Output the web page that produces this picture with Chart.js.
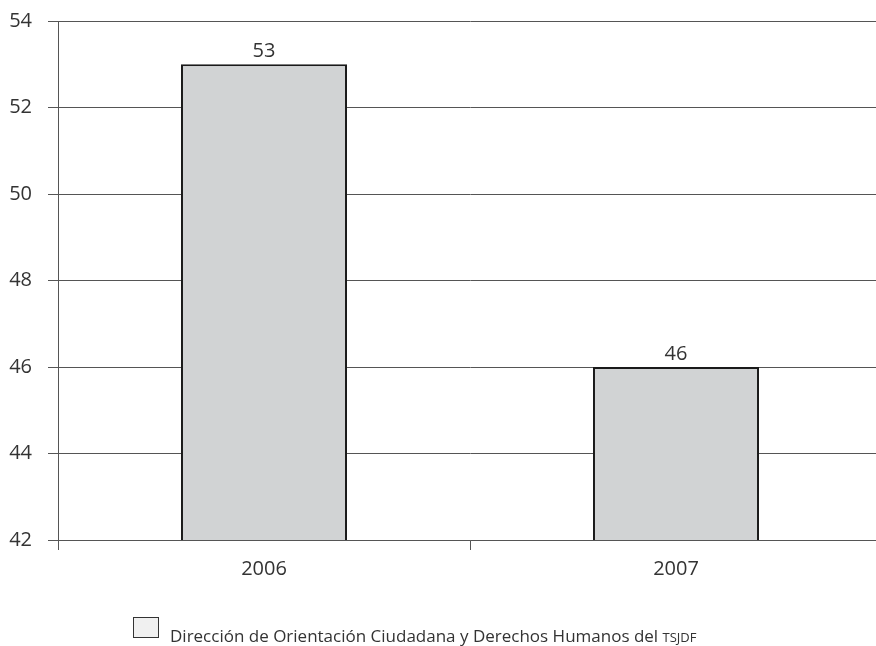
<!DOCTYPE html>
<html lang="es">
  <head>
    <meta charset="UTF-8" />
    <title>Dirección de Orientación Ciudadana y Derechos Humanos del TSJDF</title>
    <style>
      body { margin: 0; background: #fff; overflow: hidden; }
      .wrap { position: relative; width: 876px; height: 646px; overflow: hidden; }
      .area { width: 882px; height: 646px; }
      .legend {
        position: absolute; left: 133px; top: 617px;
        font-family: "Open Sans", sans-serif; font-size: 17px; color: #333;
        white-space: nowrap;
      }
      .legend .box {
        position: absolute; left: 0; top: 0; width: 24px; height: 19px;
        border: 1px solid #333; background: #f0f0f0;
      }
      .legend .txt { position: absolute; left: 37px; top: 7px; }
      .legend small { font-size: 13px; }
    </style>
  </head>

  <body>
    <div class="wrap">
      <div class="area"><canvas id="myChart"></canvas></div>
      <div class="legend">
        <span class="box"></span>
        <span class="txt">Dirección de Orientación Ciudadana y Derechos Humanos del <small>TSJDF</small></span>
      </div>
    </div>

    <script src="https://cdn.jsdelivr.net/npm/chart.js"></script>
    <script>
      const years = ["2006", "2007"];
      const valores = [53, 46];
      const yMin = 42;
      const yMax = 54;

      const font = "'Open Sans', sans-serif";

      // numeros encima de las barras
      const barLabels = {
        id: "barLabels",
        afterDatasetsDraw(chart) {
          const c = chart.ctx;
          c.save();
          c.font = "20px " + font;
          c.fillStyle = "#333";
          c.textAlign = "center";
          c.textBaseline = "alphabetic";
          chart.getDatasetMeta(0).data.forEach((bar, i) => {
            c.fillText(valores[i], bar.x, bar.y - 7);
          });
          c.restore();
        },
      };

      new Chart(document.getElementById("myChart"), {
        type: "bar",
        data: {
          labels: years,
          datasets: [
            {
              label: "Dirección de Orientación Ciudadana y Derechos Humanos del TSJDF",
              data: valores,
              backgroundColor: "#d1d3d4",
              borderColor: "#1a1a1a",
              borderWidth: 2,
              borderSkipped: false,
              barPercentage: 0.403,
              categoryPercentage: 1,
            },
          ],
        },
        options: {
          responsive: true,
          maintainAspectRatio: false,
          animation: false,
          layout: { padding: { top: 21, right: 0, bottom: 58, left: 0 } },
          plugins: {
            legend: { display: false },
            tooltip: { enabled: false },
          },
          scales: {
            y: {
              min: yMin,
              max: yMax,
              ticks: { stepSize: 2, color: "#333", padding: 16, font: { family: font, size: 20 } },
              grid: { color: "#555", lineWidth: 1, tickLength: 10 },
              border: { color: "#555" },
              afterFit(scale) {
                scale.width = 58;
                scale.paddingTop = 0;
              },
            },
            x: {
              ticks: { color: "#333", padding: 7, font: { family: font, size: 20 } },
              grid: { offset: true, drawOnChartArea: false, color: "#555", tickLength: 10 },
              border: { color: "#555" },
            },
          },
        },
        plugins: [barLabels],
      });
    </script>
  </body>
</html>
